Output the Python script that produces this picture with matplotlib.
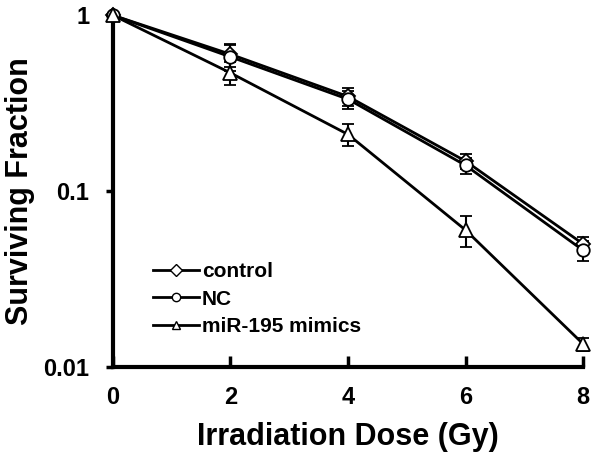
import matplotlib
matplotlib.use("Agg")
import matplotlib.pyplot as plt
from matplotlib.lines import Line2D

plt.rcParams['font.family'] = ['Liberation Sans', 'DejaVu Sans']

dose = [0, 2, 4, 6, 8]
control = [1.0, 0.60, 0.345, 0.148, 0.050]
control_err = [0.0, 0.09, 0.04, 0.014, 0.005]
nc = [1.0, 0.58, 0.333, 0.140, 0.046]
nc_err = [0.0, 0.10, 0.04, 0.015, 0.006]
mimics = [1.0, 0.47, 0.21, 0.060, 0.0135]
mimics_err = [0.0, 0.07, 0.03, 0.012, 0.0012]
labels = ['control', 'NC', 'miR-195 mimics']

fig = plt.figure(figsize=(6, 4.61), dpi=100)
ax = fig.add_axes([0.188, 0.204, 0.784, 0.763])

series = [(control, control_err, 'D', 7), (nc, nc_err, 'o', 9), (mimics, mimics_err, '^', 10)]
for (vals, err, mk, ms), lab in zip(series, labels):
    ax.errorbar(dose, vals, yerr=err, color='black', lw=2, marker=mk, ms=ms,
                mfc='white', mec='black', mew=1.3, capsize=4, elinewidth=1.5,
                capthick=1.5, label=lab, clip_on=False, zorder=3)

ax.set_yscale('log')
ax.set_ylim(0.01, 1)
ax.set_xlim(0, 8)
ax.set_xticks(dose)
ax.set_xticklabels([str(d) for d in dose])
ax.set_yticks([0.01, 0.1, 1])
ax.set_yticklabels(['0.01', '0.1', '1'])
ax.minorticks_off()
for s in ['top', 'right']:
    ax.spines[s].set_visible(False)
for s in ['left', 'bottom']:
    ax.spines[s].set_linewidth(3)
ax.tick_params(axis='x', direction='in', length=8, width=2.5, labelsize=17, pad=14)
ax.tick_params(axis='y', direction='out', length=5, width=2.5, labelsize=17, pad=12)
for t in ax.get_xticklabels() + ax.get_yticklabels():
    t.set_fontweight('bold')
ax.set_xlabel('Irradiation Dose (Gy)', fontsize=22, fontweight='bold', labelpad=9)
ax.set_ylabel('Surviving Fraction', fontsize=22, fontweight='bold', labelpad=6)

hl = [Line2D([], [], color='black', lw=2, marker=m, ms=6, mfc='white', mec='black')
      for (_, _, m, _) in series]
leg = ax.legend(hl, labels, loc='lower left', bbox_to_anchor=(0.045, 0.035), frameon=False,
                prop={'size': 15, 'weight': 'bold'}, handlelength=2.2, handletextpad=0.15,
                labelspacing=0.4)

fig.savefig('out.png', dpi=100)
